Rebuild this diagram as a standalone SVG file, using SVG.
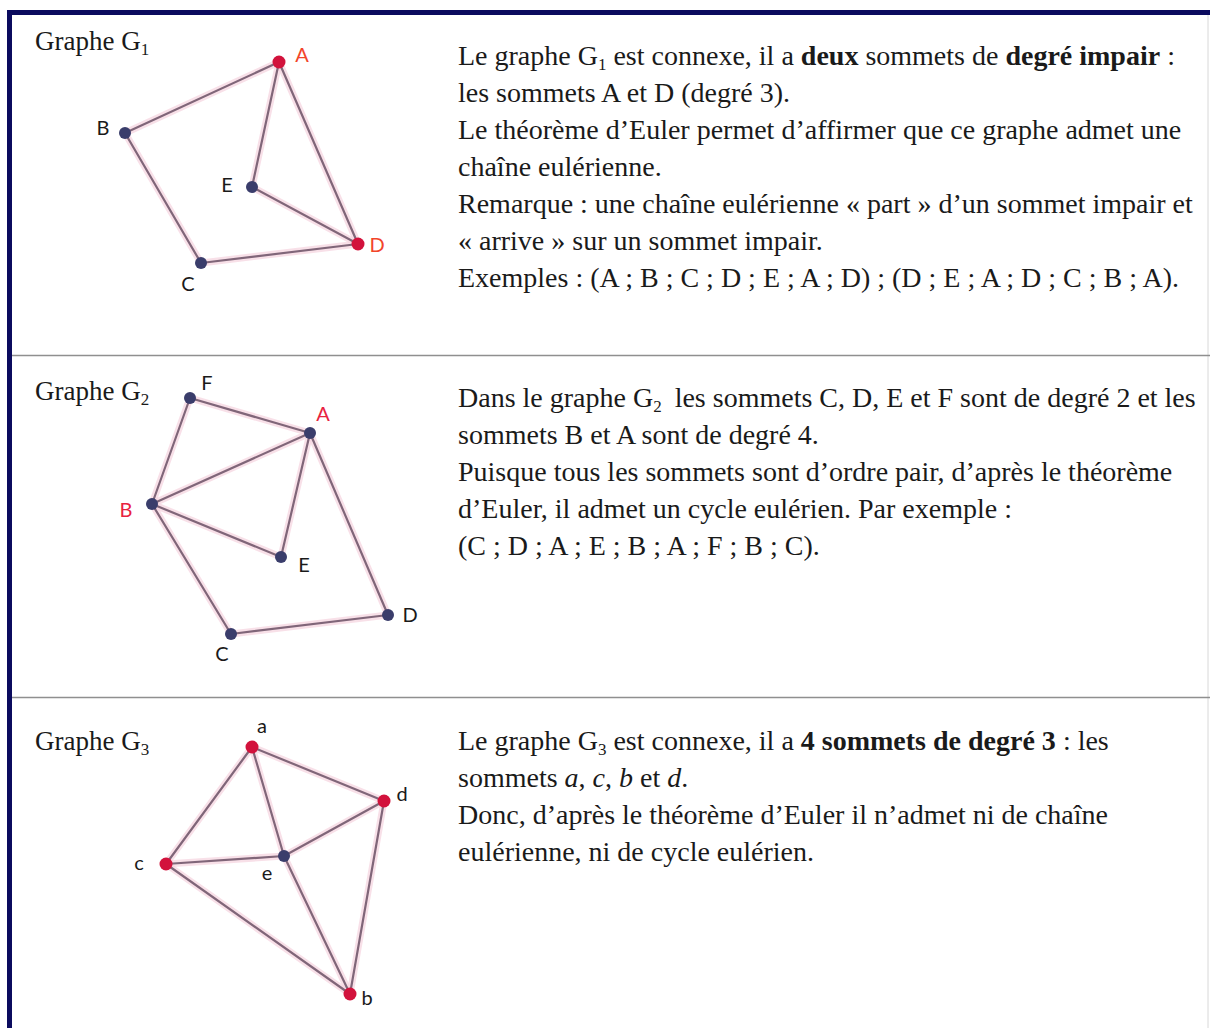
<svg xmlns="http://www.w3.org/2000/svg" width="1210" height="1028" viewBox="0 0 1210 1028">
<style>
.t{font-family:"Liberation Serif","Times New Roman",serif;font-size:28px;fill:#1a1a1a}
.h{font-size:27px}
.b{font-weight:bold}
.i{font-style:italic}
.sub{font-size:17px}
.lbl{font-family:Lato,"Open Sans",sans-serif;font-size:20px;fill:#1a1a1a}
.red{fill:#e8233f}
.org{fill:#f2452a}
.e{stroke:#806679;stroke-width:2.2;stroke-linecap:round}
.glow{stroke:#f6d3df;stroke-width:7;stroke-linecap:round;opacity:.7}
.nr{fill:#d2123c}
.nb{fill:#3a3d6b}
</style>
<rect x="0" y="0" width="1210" height="1028" fill="#fff"/>
<!-- frame -->
<rect x="7" y="10" width="1203" height="5" fill="#0b0b5e"/>
<rect x="7" y="10" width="5" height="1018" fill="#0b0b5e"/>
<line x1="1208" y1="15" x2="1208" y2="1028" stroke="#d8d8d8" stroke-width="1"/>
<line x1="12" y1="355.5" x2="1210" y2="355.5" stroke="#8f8f8f" stroke-width="1.5"/>
<line x1="12" y1="697.5" x2="1210" y2="697.5" stroke="#8f8f8f" stroke-width="1.5"/>

<!-- headings -->
<text class="t h" x="35" y="50">Graphe G<tspan class="sub" dy="5">1</tspan></text>
<text class="t h" x="35" y="400">Graphe G<tspan class="sub" dy="5">2</tspan></text>
<text class="t h" x="35" y="750">Graphe G<tspan class="sub" dy="5">3</tspan></text>

<!-- connectors -->
<g id="edges">
  <g class="glow-layer">
    <line class="glow" x1="279" y1="62" x2="125" y2="133"/>
    <line class="glow" x1="125" y1="133" x2="201" y2="263"/>
    <line class="glow" x1="201" y1="263" x2="358" y2="244"/>
    <line class="glow" x1="279" y1="62" x2="358" y2="244"/>
    <line class="glow" x1="279" y1="62" x2="252" y2="187"/>
    <line class="glow" x1="252" y1="187" x2="358" y2="244"/>
    <line class="glow" x1="190" y1="398" x2="310" y2="433"/>
    <line class="glow" x1="190" y1="398" x2="152" y2="504"/>
    <line class="glow" x1="152" y1="504" x2="310" y2="433"/>
    <line class="glow" x1="152" y1="504" x2="281" y2="557"/>
    <line class="glow" x1="310" y1="433" x2="281" y2="557"/>
    <line class="glow" x1="152" y1="504" x2="231" y2="634"/>
    <line class="glow" x1="310" y1="433" x2="388" y2="615"/>
    <line class="glow" x1="231" y1="634" x2="388" y2="615"/>
    <line class="glow" x1="252" y1="747" x2="166" y2="864"/>
    <line class="glow" x1="252" y1="747" x2="284" y2="856"/>
    <line class="glow" x1="252" y1="747" x2="384" y2="801"/>
    <line class="glow" x1="384" y1="801" x2="284" y2="856"/>
    <line class="glow" x1="384" y1="801" x2="350" y2="994"/>
    <line class="glow" x1="166" y1="864" x2="284" y2="856"/>
    <line class="glow" x1="166" y1="864" x2="350" y2="994"/>
    <line class="glow" x1="284" y1="856" x2="350" y2="994"/>
  </g>
  <line class="e" x1="279" y1="62" x2="125" y2="133"/>
  <line class="e" x1="125" y1="133" x2="201" y2="263"/>
  <line class="e" x1="201" y1="263" x2="358" y2="244"/>
  <line class="e" x1="279" y1="62" x2="358" y2="244"/>
  <line class="e" x1="279" y1="62" x2="252" y2="187"/>
  <line class="e" x1="252" y1="187" x2="358" y2="244"/>
  <line class="e" x1="190" y1="398" x2="310" y2="433"/>
  <line class="e" x1="190" y1="398" x2="152" y2="504"/>
  <line class="e" x1="152" y1="504" x2="310" y2="433"/>
  <line class="e" x1="152" y1="504" x2="281" y2="557"/>
  <line class="e" x1="310" y1="433" x2="281" y2="557"/>
  <line class="e" x1="152" y1="504" x2="231" y2="634"/>
  <line class="e" x1="310" y1="433" x2="388" y2="615"/>
  <line class="e" x1="231" y1="634" x2="388" y2="615"/>
  <line class="e" x1="252" y1="747" x2="166" y2="864"/>
  <line class="e" x1="252" y1="747" x2="284" y2="856"/>
  <line class="e" x1="252" y1="747" x2="384" y2="801"/>
  <line class="e" x1="384" y1="801" x2="284" y2="856"/>
  <line class="e" x1="384" y1="801" x2="350" y2="994"/>
  <line class="e" x1="166" y1="864" x2="284" y2="856"/>
  <line class="e" x1="166" y1="864" x2="350" y2="994"/>
  <line class="e" x1="284" y1="856" x2="350" y2="994"/>
</g>

<!-- G1 nodes -->
<g id="g1-A"><circle class="nr" cx="279" cy="62" r="6.5"/><text class="lbl org" x="302" y="62" text-anchor="middle">A</text></g>
<g id="g1-B"><circle class="nb" cx="125" cy="133" r="6"/><text class="lbl" x="103" y="135" text-anchor="middle">B</text></g>
<g id="g1-E"><circle class="nb" cx="252" cy="187" r="6"/><text class="lbl" x="227" y="192" text-anchor="middle">E</text></g>
<g id="g1-D"><circle class="nr" cx="358" cy="244" r="6.5"/><text class="lbl org" x="377" y="252" text-anchor="middle">D</text></g>
<g id="g1-C"><circle class="nb" cx="201" cy="263" r="6"/><text class="lbl" x="188" y="291" text-anchor="middle">C</text></g>

<!-- G2 nodes -->
<g id="g2-F"><circle class="nb" cx="190" cy="398" r="6"/><text class="lbl" x="207" y="390" text-anchor="middle">F</text></g>
<g id="g2-A"><circle class="nb" cx="310" cy="433" r="6"/><text class="lbl red" x="323" y="421" text-anchor="middle">A</text></g>
<g id="g2-B"><circle class="nb" cx="152" cy="504" r="6"/><text class="lbl red" x="126" y="517" text-anchor="middle">B</text></g>
<g id="g2-E"><circle class="nb" cx="281" cy="557" r="6"/><text class="lbl" x="304" y="572" text-anchor="middle">E</text></g>
<g id="g2-D"><circle class="nb" cx="388" cy="615" r="6"/><text class="lbl" x="410" y="622" text-anchor="middle">D</text></g>
<g id="g2-C"><circle class="nb" cx="231" cy="634" r="6"/><text class="lbl" x="222" y="661" text-anchor="middle">C</text></g>

<!-- G3 nodes -->
<g id="g3-a"><circle class="nr" cx="252" cy="747" r="6.5"/><text class="lbl" x="262" y="733" text-anchor="middle">a</text></g>
<g id="g3-d"><circle class="nr" cx="384" cy="801" r="6.5"/><text class="lbl" x="402" y="801" text-anchor="middle">d</text></g>
<g id="g3-c"><circle class="nr" cx="166" cy="864" r="6.5"/><text class="lbl" x="139" y="870" text-anchor="middle">c</text></g>
<g id="g3-e"><circle class="nb" cx="284" cy="856" r="6"/><text class="lbl" x="267" y="880" text-anchor="middle">e</text></g>
<g id="g3-b"><circle class="nr" cx="350" cy="994" r="6.5"/><text class="lbl" x="367" y="1005" text-anchor="middle">b</text></g>

<!-- section 1 text -->
<g id="text1">
<text class="t" x="458" y="65">Le graphe G<tspan class="sub" dy="5">1</tspan><tspan dy="-5"> est connexe, il a </tspan><tspan class="b">deux</tspan> sommets de <tspan class="b">degré impair</tspan> :</text>
<text class="t" x="458" y="102">les sommets A et D (degré 3).</text>
<text class="t" x="458" y="139">Le théorème d’Euler permet d’affirmer que ce graphe admet une</text>
<text class="t" x="458" y="176">chaîne eulérienne.</text>
<text class="t" x="458" y="213">Remarque : une chaîne eulérienne « part » d’un sommet impair et</text>
<text class="t" x="458" y="250">« arrive » sur un sommet impair.</text>
<text class="t" x="458" y="287">Exemples : (A ; B ; C ; D ; E ; A ; D) ; (D ; E ; A ; D ; C ; B ; A).</text>
</g>

<!-- section 2 text -->
<g id="text2">
<text class="t" x="458" y="407">Dans le graphe G<tspan class="sub" dy="5">2</tspan><tspan dy="-5" dx="6"> les sommets C, D, E et F sont de degré 2 et les</tspan></text>
<text class="t" x="458" y="444">sommets B et A sont de degré 4.</text>
<text class="t" x="458" y="481">Puisque tous les sommets sont d’ordre pair, d’après le théorème</text>
<text class="t" x="458" y="518">d’Euler, il admet un cycle eulérien. Par exemple :</text>
<text class="t" x="458" y="555">(C ; D ; A ; E ; B ; A ; F ; B ; C).</text>
</g>

<!-- section 3 text -->
<g id="text3">
<text class="t" x="458" y="750">Le graphe G<tspan class="sub" dy="5">3</tspan><tspan dy="-5"> est connexe, il a </tspan><tspan class="b">4 sommets de degré 3</tspan> : les</text>
<text class="t" x="458" y="787">sommets <tspan class="i">a</tspan>, <tspan class="i">c</tspan>, <tspan class="i">b</tspan> et <tspan class="i">d</tspan>.</text>
<text class="t" x="458" y="824">Donc, d’après le théorème d’Euler il n’admet ni de chaîne</text>
<text class="t" x="458" y="861">eulérienne, ni de cycle eulérien.</text>
</g>
</svg>
